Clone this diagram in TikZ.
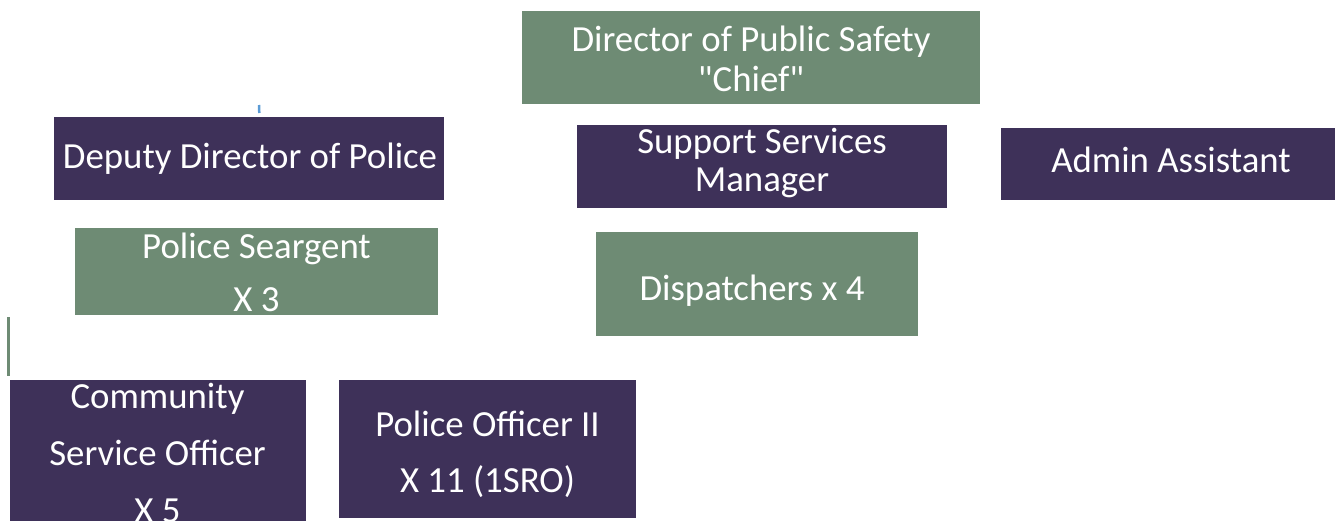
\documentclass[tikz,border=0pt]{standalone}
\usepackage{fontspec}
\setmainfont{Carlito}[Ligatures=TeXOff]
\definecolor{sage}{RGB}{110,139,116}
\definecolor{plum}{RGB}{62,49,89}
\definecolor{tickblue}{RGB}{91,155,213}
\begin{document}
\begin{tikzpicture}[x=1pt,y=-1pt,
  post/.style={fill=#1,inner sep=0pt,anchor=north west},
  lbl/.style={text=white,align=center,inner sep=0pt,font=\fontsize{36.8}{#1}\selectfont},
  lbl/.default=44]
\useasboundingbox (0,0) rectangle (1335,520);
\clip (0,0) rectangle (1335,520);
\node[post=sage,minimum width=458pt,minimum height=93pt] (chief) at (522,11) {};
\node[lbl=40] (chief-l) at (751,59.3) {Director of Public Safety\\"Chief"};
\node[post=plum,minimum width=390pt,minimum height=83pt] (deputy) at (54,117) {};
\node[lbl] (deputy-l) at (250,159) {Deputy Director of Police};
\node[post=plum,minimum width=370pt,minimum height=83pt] (support) at (577,125) {};
\node[lbl=38.5] (support-l) at (762,162.9) {Support Services\\Manager};
\node[post=plum,minimum width=340pt,minimum height=72pt] (admin) at (1001,128) {};
\node[lbl] (admin-l) at (1171,159.5) {Admin Assistant};
\node[post=sage,minimum width=363pt,minimum height=87pt] (sgt) at (75,228) {};
\node[lbl=53] (sgt-l) at (256.5,272.4) {Police Seargent\\X 3};
\node[post=sage,minimum width=322pt,minimum height=104pt] (dispatch) at (596,232) {};
\node[lbl] (dispatch-l) at (752,291) {Dispatchers x 4};
\node[post=plum,minimum width=296pt,minimum height=150pt] (cso) at (10,380) {};
\node[lbl=57] (cso-l) at (157.5,452.9) {Community\\Service Officer\\X 5};
\node[post=plum,minimum width=297pt,minimum height=138pt] (officer) at (339,380) {};
\node[lbl=56] (officer-l) at (487.5,454.7) {Police Officer II\\X 11 (1SRO)};
\draw[sage,line width=2.5pt] (8.5,317) -- (8.5,376);
\draw[tickblue,line width=2.5pt] (259,105) -- (259.3,113);
\end{tikzpicture}
\end{document}
